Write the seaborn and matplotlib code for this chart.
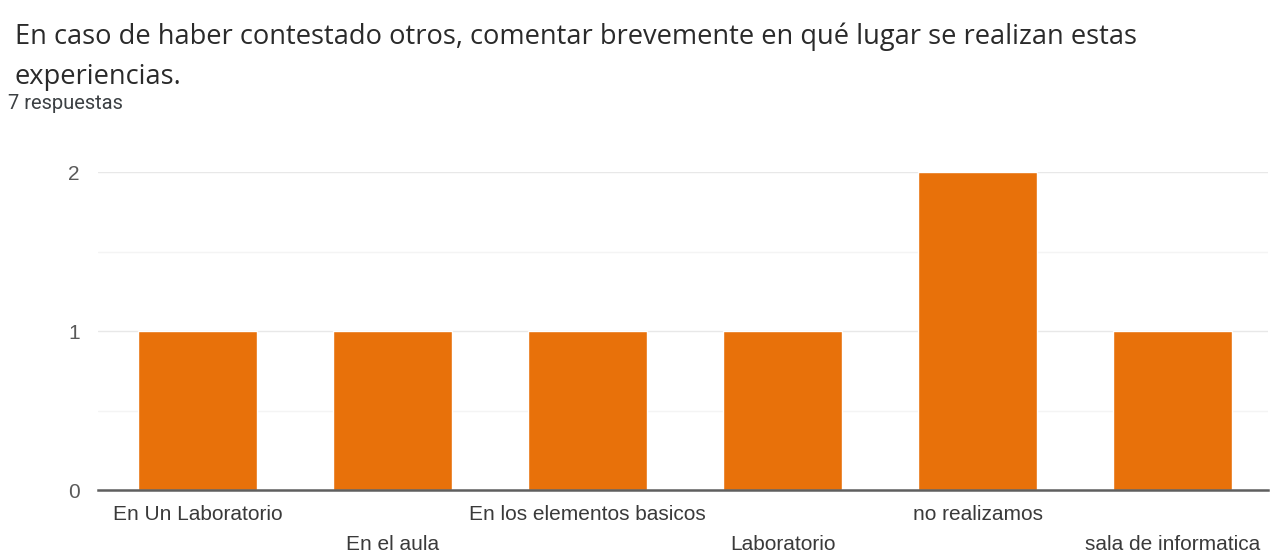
import matplotlib
matplotlib.use("Agg")
import matplotlib.pyplot as plt
import seaborn as sns
import pandas as pd
from matplotlib.ticker import MultipleLocator

# Survey responses per location
lugares = ["En Un Laboratorio", "En el aula", "En los elementos basicos",
           "Laboratorio", "no realizamos", "sala de informatica"]
respuestas = [1, 1, 1, 1, 2, 1]
y_ticks = [0, 1, 2]

titulo = "En caso de haber contestado otros, comentar brevemente en qué lugar se realizan estas\nexperiencias."
subtitulo = "7 respuestas"

df = pd.DataFrame({"lugar": lugares, "n": respuestas})

sns.set_theme(style="white")
plt.rcParams["font.family"] = ["Liberation Sans", "DejaVu Sans"]

fig = plt.figure(figsize=(12.8, 5.55), dpi=100)
ax = fig.add_axes([0.0766, 0.117, 0.9141, 0.573])

sns.barplot(data=df, x="lugar", y="n", color="#E8710A", saturation=1,
            width=0.61, ax=ax, zorder=3)

ax.set_xlim(-0.51, len(lugares) - 0.51)
ax.set_ylim(0, 2)
ax.set_yticks(y_ticks)
ax.yaxis.set_minor_locator(MultipleLocator(0.5))
ax.grid(axis="y", which="major", color="#e8e8e8", linewidth=1, zorder=0)
ax.grid(axis="y", which="minor", color="#f4f4f4", linewidth=1, zorder=0)
ax.set_xlabel("")
ax.set_ylabel("")

for s in ["top", "right", "left"]:
    ax.spines[s].set_visible(False)
ax.spines["bottom"].set_color("#5f5f5f")
ax.spines["bottom"].set_linewidth(1.8)
ax.spines["bottom"].set_zorder(4)

# alternate category labels on two rows
labels = [lab if i % 2 == 0 else "\n" + lab for i, lab in enumerate(lugares)]
ax.set_xticks(range(len(lugares)))
ax.set_xticklabels(labels, fontsize=15, color="#3a3a3a", linespacing=1.72)
ax.tick_params(axis="x", length=0, pad=11)
ax.tick_params(axis="y", length=0, pad=13, labelsize=15, labelcolor="#5a5a5a")

fig.text(0.0117, 0.960, titulo, fontsize=19.6, color="#2a2a2a", va="top",
         linespacing=1.58, family=["Open Sans", "DejaVu Sans"])
fig.text(0.006, 0.830, subtitulo, fontsize=14.5, color="#3c4043", va="top",
         family=["Roboto", "DejaVu Sans"])

fig.savefig("out.png", dpi=100)
